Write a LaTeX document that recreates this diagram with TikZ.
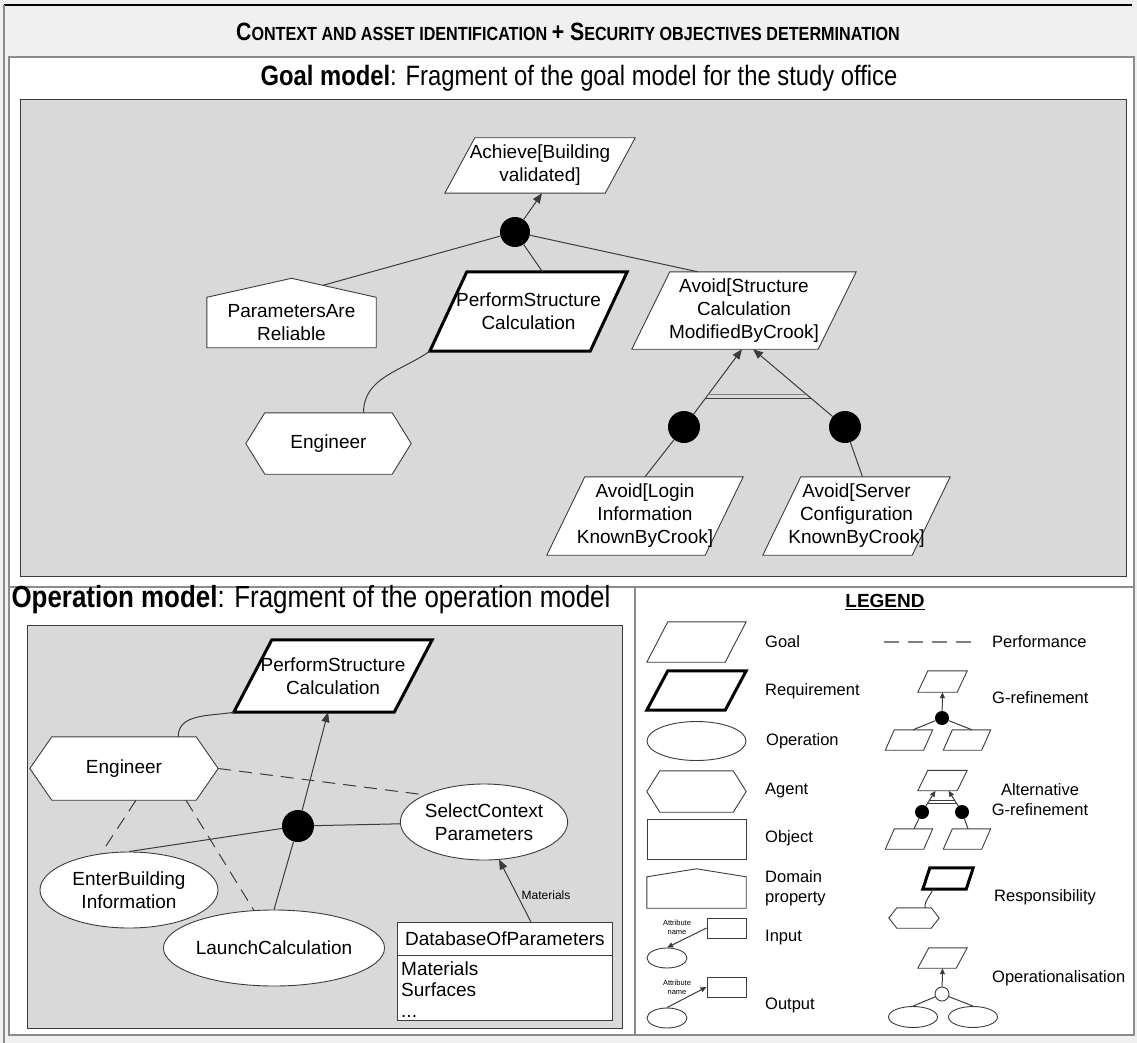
\documentclass[tikz,border=0pt]{standalone}
\usepackage{fontspec}
\setmainfont{Liberation Sans}
\newfontfamily\narrowfont{Liberation Sans}[FakeStretch=0.85]
\usetikzlibrary{shapes.geometric,arrows.meta,calc}

\pgfdeclarelayer{panels}
\pgfdeclarelayer{outlines}
\pgfsetlayers{panels,outlines,main}

\definecolor{pagebg}{HTML}{F0F0F0}
\definecolor{areabg}{HTML}{D9D9D9}
\definecolor{edge}{HTML}{3C3C3C}
\definecolor{framegray}{HTML}{8C8C8C}

\newcommand\nodefont{\fontsize{19}{23}\selectfont}
\newcommand\legfont{\fontsize{16.5}{20}\selectfont}
\newcommand\capsmall[2]{{\fontsize{25}{28}\selectfont #1}{\fontsize{19}{22}\selectfont #2}}

\tikzset{
  txt/.style={inner sep=0pt, align=center, font=\nodefont},
  shapeline/.style={draw=edge, line width=0.9pt, fill=white},
  reqline/.style={draw=black, line width=3pt, fill=white},
  conn/.style={draw=edge, line width=1pt},
  tip/.style={-{Triangle[length=10pt,width=8pt]}},
  smalltip/.style={-{Triangle[length=6pt,width=5pt]}},
  perf/.style={conn, dash pattern=on 13pt off 8pt},
  dot/.style={circle, fill=black, draw=none, inner sep=0pt, minimum size=#1},
  opell/.style={ellipse, shapeline, inner sep=0pt, align=center, font=\nodefont},
  legtxt/.style={inner sep=0pt, anchor=west, align=left, font=\legfont},
}

% outlines drawn around plain rectangular nodes
\newcommand\paraoutline[3][shapeline]{\begin{pgfonlayer}{outlines}
  \path[#1] ($(#2.north west)+(#3,0)$) -- (#2.north east) -- ($(#2.south east)+(-#3,0)$) -- (#2.south west) -- cycle;
\end{pgfonlayer}}
\newcommand\hexoutline[3][shapeline]{\begin{pgfonlayer}{outlines}
  \path[#1] ($(#2.west)+(-#3,0)$) -- (#2.north west) -- (#2.north east) -- ($(#2.east)+(#3,0)$) -- (#2.south east) -- (#2.south west) -- cycle;
\end{pgfonlayer}}
\newcommand\houseoutline[3][shapeline]{\begin{pgfonlayer}{outlines}
  \path[#1] (#2.south west) -- (#2.north west) -- ($(#2.north)+(0,-#3)$) -- (#2.north east) -- (#2.south east) -- cycle;
\end{pgfonlayer}}

\begin{document}
\begin{tikzpicture}[x=1pt,y=-1pt]
\useasboundingbox (0,0) rectangle (1137,1043);

% ---------- frames ----------
\begin{pgfonlayer}{panels}
  \fill[pagebg] (0,0) rectangle (1137,1043);
  \draw[black, line width=1.5pt] (4,5) -- (1132,5);
  \draw[framegray, line width=1.2pt] (4,5) -- (4,1043);
  \draw[framegray, line width=2pt, fill=white] (9,57) rectangle (1134,587);
  \draw[framegray, line width=2pt, fill=white] (9,587) rectangle (635,1035);
  \draw[framegray, line width=2pt, fill=white] (635,587) rectangle (1134,1035);
  \draw[edge, line width=1pt, fill=areabg] (20,100) rectangle (1126,576);
  \draw[edge, line width=1pt, fill=areabg] (27,625) rectangle (622,1028);
\end{pgfonlayer}

% ---------- titles ----------
\node[inner sep=0pt, font=\narrowfont\bfseries] (maintitle) at (568,32)
  {\capsmall{C}{ONTEXT AND ASSET IDENTIFICATION }\capsmall{+ S}{ECURITY OBJECTIVES DETERMINATION}};
\node[inner sep=0pt, font=\narrowfont\fontsize{28}{32}\selectfont] (goaltitle) at (579,78)
  {\textbf{Goal model}: Fragment of the goal model for the study office};
\node[inner sep=0pt, font=\narrowfont\fontsize{30.5}{34}\selectfont] (optitle) at (311,600)
  {\textbf{Operation model}: Fragment of the operation model};
\node[inner sep=0pt, font=\bfseries\fontsize{19}{23}\selectfont] (legendtitle) at (885,602)
  {\underline{LEGEND}};

% ---------- goal model ----------
\node[txt, minimum width=190, minimum height=55] (ach) at (540,165.5) {Achieve[Building\\validated]};
\paraoutline{ach}{30}
\node[dot=30] (g1) at (515,232) {};
\node[txt, minimum width=169, minimum height=50] (par) at (291.5,322.5) {ParametersAre\\Reliable};
\houseoutline{par}{19}
\node[txt, minimum width=197, minimum height=79] (psc) at (528.5,311.5) {PerformStructure\\Calculation};
\paraoutline[reqline]{psc}{37}
\node[txt, minimum width=224, minimum height=77] (avs) at (744,310.5) {Avoid[Structure\\Calculation\\ModifiedByCrook]};
\paraoutline{avs}{38}
\node[txt, minimum width=127, minimum height=61] (eng) at (328.5,443.5) {Engineer};
\hexoutline{eng}{19}
\node[dot=32] (d2) at (684,427) {};
\node[dot=32] (d3) at (845,427) {};
\node[txt, minimum width=196, minimum height=78] (lg) at (645,516) {Avoid[Login\\Information\\KnownByCrook]};
\paraoutline{lg}{38}
\node[txt, minimum width=187, minimum height=78] (sv) at (856.5,516) {Avoid[Server\\Configuration\\KnownByCrook]};
\paraoutline{sv}{38}

\coordinate (parroof) at ($(par.north)+(31.5,-12)$);
\draw[conn, tip] (g1) -- ($(ach.south)+(2,0)$);
\draw[conn] (g1) -- (parroof);
\draw[conn] (g1) -- ($(psc.north)+(14,0)$);
\draw[conn] (g1) -- ($(avs.north west)+(66,0)$);
\draw[conn] ($(eng.north)+(35,0)$) to[out=90,in=215] (psc.south west);

\coordinate (altL) at ($(avs.south)+(-2,0)$);
\coordinate (altR) at ($(avs.south)+(9,0)$);
\draw[conn, tip] (d2) -- (altL);
\draw[conn, tip] (d3) -- (altR);
\draw[conn, draw=gray] ($(d2.center)!0.42!(altL)$) -- ($(d3.center)!0.42!(altR)$);
\draw[conn] ($(d2.center)!0.36!(altL)$) -- ($(d3.center)!0.36!(altR)$);
\draw[conn] (d2) -- (lg.north);
\draw[conn] (d3) -- ($(sv.north)+(6,0)$);

% ---------- operation model ----------
\node[txt, minimum width=198, minimum height=72] (ops) at (333,676) {PerformStructure\\Calculation};
\paraoutline[reqline]{ops}{38}
\node[txt, minimum width=144, minimum height=63] (oeng) at (124,768.5) {Engineer};
\hexoutline{oeng}{22}
\node[dot=32] (od) at (298,826) {};
\node[opell, minimum width=150, minimum height=76] (sel) at (484,822) {SelectContext\\Parameters};
\node[opell, minimum width=178, minimum height=76] (ebi) at (129,890) {EnterBuilding\\Information};
\node[opell, minimum width=178, minimum height=76] (lc) at (274,948) {LaunchCalculation};

\node[shapeline, rectangle, minimum width=215, minimum height=98, anchor=north west, inner sep=0pt] (db) at (397,922) {};
\draw[draw=edge, line width=0.9pt] ($(db.north west)+(0,33)$) -- ($(db.north east)+(0,33)$);
\node[txt] (dbname) at ($(db.north)+(0,17)$) {DatabaseOfParameters};
\node[inner sep=0pt, anchor=north west, align=left, font=\fontsize{19}{21}\selectfont] (dbattr) at ($(db.north west)+(4,40)$) {Materials\\Surfaces\\...};

\draw[conn, tip] (od) -- ($(ops.south)+(-5,0)$);
\draw[conn] ($(oeng.north east)+(-18,0)$) to[out=90,in=190] ($(ops.south west)$);
\draw[conn] (od) -- (sel);
\draw[conn] (od) -- (ebi.north);
\draw[conn] (od) -- (lc.north);
\draw[perf] ($(oeng.east)+(22,0)$) -- (sel.north west);
\draw[perf] ($(oeng.south)+(12,0)$) -- ($(ebi.north)+(-28,2)$);
\draw[perf] ($(oeng.south)+(62,0)$) -- ($(lc.north)+(-20,1)$);
\draw[conn, tip] ($(db.north)+(26,0)$) -- ($(sel.south)+(15,-1)$);
\node[inner sep=0pt, font=\fontsize{12}{14}\selectfont] (matlbl) at (546,895) {Materials};

% ---------- legend, left column ----------
\node[minimum width=99, minimum height=40, inner sep=0pt] (lgoal) at (696.5,642) {};
\paraoutline{lgoal}{21}
\node[legtxt] (tgoal) at (765,642) {Goal};
\node[minimum width=99, minimum height=39, inner sep=0pt] (lreq) at (696.5,690.5) {};
\paraoutline[reqline]{lreq}{21}
\node[legtxt] (treq) at (765,691) {Requirement};
\node[ellipse, shapeline, minimum width=99, minimum height=39, inner sep=0pt] (lop) at (696.5,741) {};
\node[legtxt] (top) at (766,741) {Operation};
\node[minimum width=73, minimum height=41, inner sep=0pt] (lag) at (696.5,791.5) {};
\hexoutline{lag}{13}
\node[legtxt] (tag) at (765,791) {Agent};
\node[shapeline, rectangle, minimum width=99, minimum height=40, inner sep=0pt] (lobj) at (696.5,839) {};
\node[legtxt] (tobj) at (765,838) {Object};
\node[minimum width=99, minimum height=31, inner sep=0pt] (ldom) at (696.5,892.5) {};
\houseoutline{ldom}{8}
\node[legtxt] (tdom) at (765,888) {Domain\\property};

\node[shapeline, rectangle, minimum width=39, minimum height=20, inner sep=0pt] (inrect) at (726.5,928) {};
\node[ellipse, shapeline, minimum width=40, minimum height=20, inner sep=0pt] (inell) at (667,958) {};
\draw[conn, smalltip] (inrect.west) -- (inell.north);
\node[inner sep=0pt, align=center, font=\fontsize{7.5}{9}\selectfont] (inattr) at (677,927) {Attribute\\name};
\node[legtxt] (tin) at (765,938) {Input};

\node[shapeline, rectangle, minimum width=39, minimum height=20, inner sep=0pt] (outrect) at (726.5,987) {};
\node[ellipse, shapeline, minimum width=40, minimum height=20, inner sep=0pt] (outell) at (667,1018) {};
\draw[conn, smalltip] (outell.north) -- (outrect.west);
\node[inner sep=0pt, align=center, font=\fontsize{7.5}{9}\selectfont] (outattr) at (677,987) {Attribute\\name};
\node[legtxt] (tout) at (765,1005) {Output};

% ---------- legend, right column ----------
\coordinate (perfA) at (884,642);
\coordinate (perfB) at (971,642);
\draw[perf, draw=gray, line width=1.3pt, dash pattern=on 15pt off 9pt] (perfA) -- (perfB);
\node[legtxt] (tperf) at (992,642) {Performance};

\node[minimum width=49, minimum height=21, inner sep=0pt] (grtop) at (942.5,681.5) {};
\paraoutline{grtop}{10}
\node[dot=14] (grdot) at (942,718) {};
\node[minimum width=47, minimum height=20, inner sep=0pt] (grl) at (909,740) {};
\paraoutline{grl}{9}
\node[minimum width=47, minimum height=20, inner sep=0pt] (grr) at (967,740) {};
\paraoutline{grr}{9}
\draw[conn, smalltip] (grdot) -- (grtop.south);
\draw[conn] (grdot) -- ($(grl.north)+(4,0)$);
\draw[conn] (grdot) -- ($(grr.north)+(5,0)$);
\node[legtxt] (tgr) at (992,698) {G-refinement};

\node[minimum width=49, minimum height=20, inner sep=0pt] (agtop) at (942.5,780.5) {};
\paraoutline{agtop}{10}
\node[dot=14] (agd1) at (922,812) {};
\node[dot=14] (agd2) at (962,812) {};
\node[minimum width=47, minimum height=20, inner sep=0pt] (agl) at (909,839) {};
\paraoutline{agl}{9}
\node[minimum width=47, minimum height=20, inner sep=0pt] (agr) at (967,839) {};
\paraoutline{agr}{9}
\coordinate (agL) at ($(agtop.south)+(-7,0)$);
\coordinate (agR) at ($(agtop.south)+(6,0)$);
\draw[conn, smalltip] (agd1) -- (agL);
\draw[conn, smalltip] (agd2) -- (agR);
\draw[conn] ($(agd1.center)!0.55!(agL)$) -- ($(agd2.center)!0.55!(agR)$);
\draw[conn] ($(agd1.center)!0.38!(agL)$) -- ($(agd2.center)!0.38!(agR)$);
\draw[conn] (agd1) -- ($(agl.north)+(5,0)$);
\draw[conn] (agd2) -- ($(agr.north)+(1,0)$);
\node[inner sep=0pt, align=center, font=\legfont] (tag2) at (1040,800) {Alternative\\G-refinement};

\node[minimum width=50, minimum height=21, inner sep=0pt] (rpara) at (948,878.5) {};
\paraoutline[reqline]{rpara}{7}
\node[minimum width=34, minimum height=20, inner sep=0pt] (rhex) at (914,918) {};
\hexoutline{rhex}{8}
\draw[conn] ($(rhex.north)+(11,0)$) to[out=95,in=250] ($(rpara.south west)+(10,0)$);
\node[legtxt] (tresp) at (994,897) {Responsibility};

\node[minimum width=49, minimum height=20, inner sep=0pt] (optop) at (942.5,958) {};
\paraoutline{optop}{11}
\node[circle, shapeline, minimum size=14, inner sep=0pt] (opcirc) at (942,994) {};
\node[ellipse, shapeline, minimum width=49, minimum height=21, inner sep=0pt] (opl) at (913,1017) {};
\node[ellipse, shapeline, minimum width=49, minimum height=21, inner sep=0pt] (opr) at (973,1017) {};
\draw[conn, smalltip] (opcirc) -- (optop.south);
\draw[conn] (opcirc) -- (opl.north);
\draw[conn] (opcirc) -- (opr.north);
\node[legtxt] (topz) at (992,978) {Operationalisation};

\end{tikzpicture}
\end{document}
